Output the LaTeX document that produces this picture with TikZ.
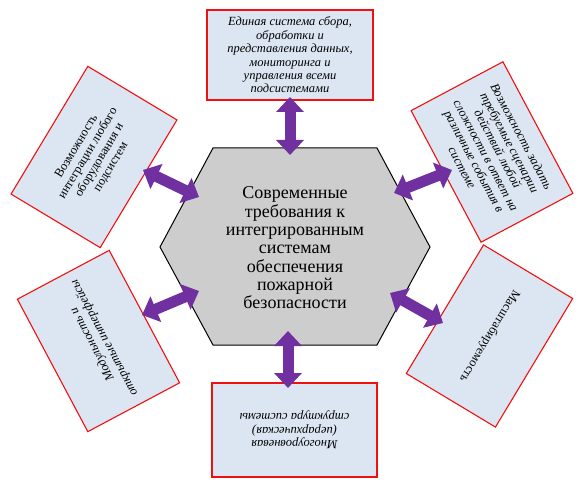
\documentclass[tikz,border=0pt]{standalone}
\usepackage{fontspec}
\setmainfont{LiberationSerif}[
  Extension=.ttf,
  UprightFont=*-Regular,
  ItalicFont=*-Italic,
  BoldFont=*-Bold]
\usetikzlibrary{arrows.meta}
\definecolor{boxfill}{HTML}{DCE6F2}
\definecolor{boxline}{HTML}{F01010}
\definecolor{hexfill}{HTML}{CDCDCD}
\definecolor{arrowcol}{HTML}{7030A0}
\begin{document}
\begin{tikzpicture}[x=1pt,y=-1pt,
  infobox/.style={draw=boxline, fill=boxfill, line width=1.1pt, inner sep=0pt, align=center,
    font=\fontsize{12.5}{13.4}\selectfont\itshape},
  uprightbox/.style={infobox, font=\fontsize{12.5}{13.4}\selectfont},
  hexshape/.style={draw=black, fill=hexfill, line width=1pt, line join=miter},
  hextext/.style={align=center, inner sep=0pt, font=\fontsize{18}{18.3}\selectfont},
  bigarrow/.style={draw=arrowcol, line width=11pt,
    {Triangle[width=27pt,length=15pt]}-{Triangle[width=27pt,length=15pt]}}]
\useasboundingbox (0,0) rectangle (581,486);

% boxes
\node[infobox, minimum width=166pt, minimum height=90pt] (top) at (290,55)
  {Единая система сбора,\\обработки и\\представления данных,\\мониторинга и\\управления всеми\\подсистемами};
\node[uprightbox, minimum width=149pt, minimum height=104pt, rotate=59] (tl) at (94,157)
  {Возможность\\интеграции любого\\оборудования и\\подсистем};
\node[infobox, minimum width=149pt, minimum height=104pt, rotate=-62] (tr) at (492,152)
  {Возможность задать\\требуемые сценарии\\действий любой\\сложности в ответ на\\различные события в\\системе};
\node[infobox, minimum width=150pt, minimum height=104pt, rotate=118] (bl) at (98.5,341)
  {Модульность и\\открытые интерфейсы};
\node[uprightbox, minimum width=150pt, minimum height=104pt, rotate=-121] (br) at (489.5,336)
  {Масштабируемость};
\node[infobox, minimum width=165pt, minimum height=94pt, rotate=180] (bot) at (294.5,430)
  {Многоуровневая\\(иерархическая)\\структура системы};

% hexagon
\draw[hexshape] (213,148) -- (377,148) -- (430,247) -- (377,345) -- (213,345) -- (160,247) -- cycle;
\node[hextext] (hex) at (295,248)
  {Современные\\требования к\\интегрированным\\системам\\обеспечения\\пожарной\\безопасности};

% arrow ends
\coordinate (topA) at (290,97);  \coordinate (topB) at (290,155);
\coordinate (tlA) at (143,170);  \coordinate (tlB) at (199,197);
\coordinate (trA) at (452,170);  \coordinate (trB) at (394,193);
\coordinate (blA) at (142,315);  \coordinate (blB) at (199,291);
\coordinate (brA) at (443,323);  \coordinate (brB) at (390,293);
\coordinate (botA) at (288,388); \coordinate (botB) at (288,331);

\draw[bigarrow] (topA) -- (topB);
\draw[bigarrow] (tlA) -- (tlB);
\draw[bigarrow] (trA) -- (trB);
\draw[bigarrow] (blA) -- (blB);
\draw[bigarrow] (brA) -- (brB);
\draw[bigarrow] (botA) -- (botB);
\end{tikzpicture}
\end{document}
